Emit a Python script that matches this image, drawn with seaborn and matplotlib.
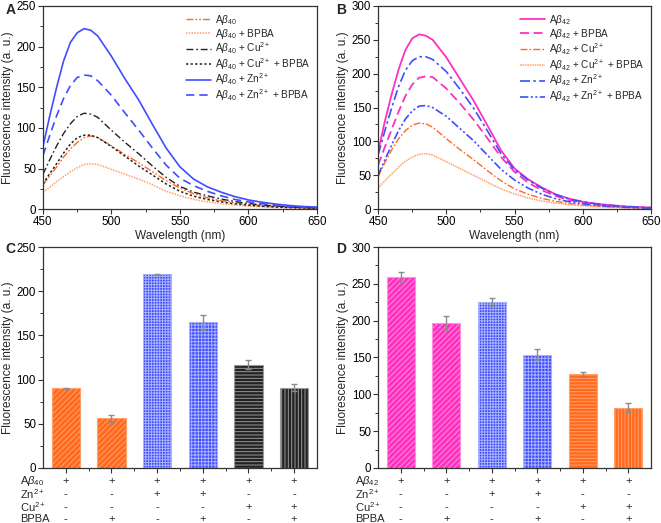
import matplotlib
matplotlib.use('Agg')
import matplotlib.pyplot as plt
import matplotlib.transforms as mtrans
from matplotlib.ticker import MultipleLocator
import seaborn as sns

# wavelengths (nm) shared by all spectra
wavelength = [450, 455, 460, 465, 470, 475, 480, 485, 490, 500, 510, 520, 530,
              540, 550, 560, 570, 580, 590, 600, 610, 620, 630, 640, 650]

# panel A spectra (Abeta40)
ab40 = [30, 41, 52, 64, 74, 82, 88, 90, 88, 78, 67, 57, 46, 35, 26, 19, 14, 10.5, 8, 6, 4.5, 3.4, 2.5, 1.8, 1.3]
ab40_bpba = [21, 27, 34, 40, 46, 51, 55, 56, 55, 49, 43, 37, 30, 22, 16.5, 12, 9, 6.8, 5.1, 3.8, 2.9, 2.2, 1.6, 1.2, 0.9]
ab40_cu = [43, 61, 78, 93, 105, 114, 118, 117, 113, 97, 82, 68, 53, 39, 28, 21, 16.5, 12.5, 9.5, 7, 5.2, 3.9, 2.9, 2.1, 1.5]
ab40_cu_bpba = [31, 44, 56, 69, 80, 88, 91, 91, 88, 77, 65, 53, 42, 31, 22, 16, 12, 9, 6.6, 4.9, 3.6, 2.7, 2, 1.5, 1.1]
ab40_zn = [77, 115, 150, 182, 205, 217, 222, 220, 213, 188, 160, 134, 104, 75, 52, 37, 27.5, 21, 15.5, 11.4, 8.5, 6.3, 4.5, 3.3, 2.5]
ab40_zn_bpba = [66, 91, 115, 136, 152, 162, 165, 164, 158, 140, 118, 97, 75, 54, 38, 29, 22, 16.5, 12, 9, 6.8, 5, 3.6, 2.7, 2]

# panel B spectra (Abeta42)
ab42 = [85, 130, 170, 206, 235, 252, 258, 256, 250, 224, 192, 160, 124, 87, 60, 44, 32, 22, 15.5, 11, 8, 6, 4.2, 3.2, 2.4]
ab42_bpba = [65, 92, 118, 144, 167, 184, 194, 196, 195, 178, 156, 132, 105, 77, 55, 39, 28, 19.5, 13.5, 9.5, 6.8, 4.9, 3.5, 2.5, 1.8]
ab42_cu = [48, 69, 88, 104, 116, 124, 127, 126, 121, 104, 88, 73, 57, 42, 30, 22, 16, 11.5, 8.5, 6.2, 4.5, 3.3, 2.4, 1.8, 1.3]
ab42_cu_bpba = [31, 42, 52, 62, 71, 77, 81, 82, 80, 70, 60, 50, 40, 30, 22.5, 16.5, 12, 9, 6.6, 4.9, 3.6, 2.7, 2, 1.5, 1.1]
ab42_zn = [80, 116, 150, 181, 205, 219, 225, 225, 221, 203, 177, 149, 116, 82, 58, 43, 31, 21.5, 15, 10.8, 7.8, 5.7, 4.1, 3, 2.2]
ab42_zn_bpba = [50, 73, 95, 116, 133, 145, 152, 153, 150, 137, 119, 101, 80, 59, 43, 31, 22, 15.5, 11, 7.8, 5.6, 4, 2.9, 2.1, 1.5]

# bar panels
groups_c = ['Ab40', 'Ab40+BPBA', 'Ab40+Zn', 'Ab40+Zn+BPBA', 'Ab40+Cu', 'Ab40+Cu+BPBA']
values_c = [90, 56, 219, 165, 117, 91]
errors_c = [1, 4.5, 1, 8.5, 5.5, 3.7]
groups_d = ['Ab42', 'Ab42+BPBA', 'Ab42+Zn', 'Ab42+Zn+BPBA', 'Ab42+Cu', 'Ab42+Cu+BPBA']
values_d = [259, 197, 225, 154, 127, 82]
errors_d = [7, 9.5, 5.5, 8, 3.5, 6]

row_names_c = [r'A$\beta_{40}$', r'Zn$^{2+}$', r'Cu$^{2+}$', 'BPBA']
row_names_d = [r'A$\beta_{42}$', r'Zn$^{2+}$', r'Cu$^{2+}$', 'BPBA']
signs_ab = ['+', '+', '+', '+', '+', '+']
signs_zn = ['-', '-', '+', '+', '-', '-']
signs_cu = ['-', '-', '-', '-', '+', '+']
signs_bpba = ['-', '+', '-', '+', '-', '+']

sns.set_theme(style='ticks')
plt.rcParams['font.family'] = ['Liberation Sans', 'DejaVu Sans']
plt.rcParams['mathtext.fontset'] = 'custom'
plt.rcParams['mathtext.rm'] = 'Liberation Sans'
plt.rcParams['mathtext.it'] = 'Liberation Sans:italic'
plt.rcParams['mathtext.bf'] = 'Liberation Sans:bold'
plt.rcParams['hatch.linewidth'] = 0.7

orange = '#ff6a1f'
light_orange = '#ffa06a'
blue = '#3f4dff'
magenta = '#ff30c0'
black = '#222222'

FS = 8.3   # tick labels
LFS = 8.6  # axis labels

fig = plt.figure(figsize=(6.61, 5.23), dpi=100)
axA = fig.add_axes([0.065, 0.600, 0.4145, 0.3887])
axB = fig.add_axes([0.572, 0.600, 0.413, 0.3887])
axC = fig.add_axes([0.065, 0.1052, 0.4145, 0.4225])
axD = fig.add_axes([0.572, 0.1052, 0.413, 0.4225])


def style_axes(ax, ymax):
    for sp in ax.spines.values():
        sp.set_color('#333333')
        sp.set_linewidth(0.9)
    ax.set_ylim(0, ymax)
    ax.yaxis.set_major_locator(MultipleLocator(50))
    ax.yaxis.set_minor_locator(MultipleLocator(25))
    ax.tick_params(which='major', direction='out', length=3.5, width=0.8,
                   labelsize=FS, pad=1.5, colors='#333333', labelcolor='black')
    ax.tick_params(which='minor', direction='out', length=2, width=0.7, colors='#333333')
    ax.set_ylabel('Fluorescence intensity (a. u.)', fontsize=LFS, labelpad=2)


# ---- line panels ----
series_a = [
    (ab40, r'A$\beta_{40}$', orange, (0, (5, 1.5, 1.2, 1.5, 1.2, 1.5)), 1.0),
    (ab40_bpba, r'A$\beta_{40}$ + BPBA', light_orange, (0, (1, 0.8)), 1.1),
    (ab40_cu, r'A$\beta_{40}$ + Cu$^{2+}$', black, (0, (5, 2, 1.2, 2)), 1.0),
    (ab40_cu_bpba, r'A$\beta_{40}$ + Cu$^{2+}$ + BPBA', black, (0, (1.5, 1.5)), 1.1),
    (ab40_zn, r'A$\beta_{40}$ + Zn$^{2+}$', blue, '-', 1.2),
    (ab40_zn_bpba, r'A$\beta_{40}$ + Zn$^{2+}$ + BPBA', blue, (0, (5, 3)), 1.2),
]
series_b = [
    (ab42, r'A$\beta_{42}$', magenta, '-', 1.3),
    (ab42_bpba, r'A$\beta_{42}$ + BPBA', magenta, (0, (5, 2.5)), 1.3),
    (ab42_cu, r'A$\beta_{42}$ + Cu$^{2+}$', orange, (0, (5, 1.5, 1.2, 1.5)), 1.0),
    (ab42_cu_bpba, r'A$\beta_{42}$ + Cu$^{2+}$ + BPBA', light_orange, (0, (1, 0.6)), 1.1),
    (ab42_zn, r'A$\beta_{42}$ + Zn$^{2+}$', blue, (0, (6, 2, 1.5, 2)), 1.2),
    (ab42_zn_bpba, r'A$\beta_{42}$ + Zn$^{2+}$ + BPBA', blue, (0, (5, 1.5, 1.2, 1.5, 1.2, 1.5)), 1.2),
]

for ax, series, ymax, spacing in [(axA, series_a, 250, -0.03), (axB, series_b, 300, 0.0)]:
    for vals, lab, col, ls, lw in series:
        sns.lineplot(x=wavelength, y=vals, ax=ax, color=col, linestyle=ls,
                     linewidth=lw, label=lab)
    style_axes(ax, ymax)
    ax.set_xlim(450, 650)
    ax.xaxis.set_major_locator(MultipleLocator(50))
    ax.xaxis.set_minor_locator(MultipleLocator(25))
    ax.set_xlabel('Wavelength (nm)', fontsize=LFS, labelpad=1)
    ax.legend(loc='upper right', bbox_to_anchor=(1.0, 1.0), frameon=False,
              fontsize=7.2, handlelength=2.5, handletextpad=0.4,
              labelspacing=spacing, borderaxespad=0.3)

# ---- bar panels ----
face_c = [orange, orange, blue, blue, black, black]
hatchcol_c = [light_orange, light_orange, '#aab2ff', '#aab2ff', '#9a9a9a', '#9a9a9a']
hatch_c = ['//////', '//////', '++++++', '+++++', '-----', '|||||']
face_d = [magenta, magenta, blue, blue, orange, orange]
hatchcol_d = ['#ff90dc', '#ff90dc', '#aab2ff', '#aab2ff', light_orange, light_orange]
hatch_d = ['//////', '//////', '++++++', '+++++', '-----', '|||||']

bar_sets = [
    (axC, groups_c, values_c, errors_c, face_c, hatchcol_c, hatch_c, 250, row_names_c),
    (axD, groups_d, values_d, errors_d, face_d, hatchcol_d, hatch_d, 300, row_names_d),
]
for ax, groups, vals, errs, faces, hcols, hatches, ymax, rows in bar_sets:
    sns.barplot(x=groups, y=vals, hue=groups, palette=faces, legend=False,
                width=0.62, saturation=1, errorbar=None, ax=ax)
    for patch, hc, h in zip(ax.patches, hcols, hatches):
        patch.set_edgecolor(hc)
        patch.set_hatch(h)
        patch.set_linewidth(0.8)
    ax.errorbar(x=list(range(len(vals))), y=vals, yerr=errs, fmt='none',
                ecolor='#8c8c8c', elinewidth=1.0, capsize=2, capthick=1.0, zorder=5)
    style_axes(ax, ymax)
    ax.set_xlim(-0.5, 5.5)
    ax.set_xticks(range(6))
    ax.set_xticks([0.5, 1.5, 2.5, 3.5, 4.5], minor=True)
    ax.set_xticklabels([])
    ax.set_xlabel('')
    trans = mtrans.blended_transform_factory(ax.transData, ax.transAxes)
    row_y = [-0.06, -0.12, -0.177, -0.231]
    for ry, name, signs in zip(row_y, rows, [signs_ab, signs_zn, signs_cu, signs_bpba]):
        ax.text(-0.085, ry, name, transform=ax.transAxes, ha='left', va='center', fontsize=8)
        for i, s in enumerate(signs):
            ax.text(i, ry, s, transform=trans, ha='center', va='center', fontsize=8)

# panel letters
for x, y, letter in [(0.008, 0.995, 'A'), (0.508, 0.995, 'B'), (0.008, 0.538, 'C'), (0.508, 0.538, 'D')]:
    fig.text(x, y, letter, fontsize=10, fontweight='bold', va='top', ha='left')

fig.savefig('out.png', dpi=100)
